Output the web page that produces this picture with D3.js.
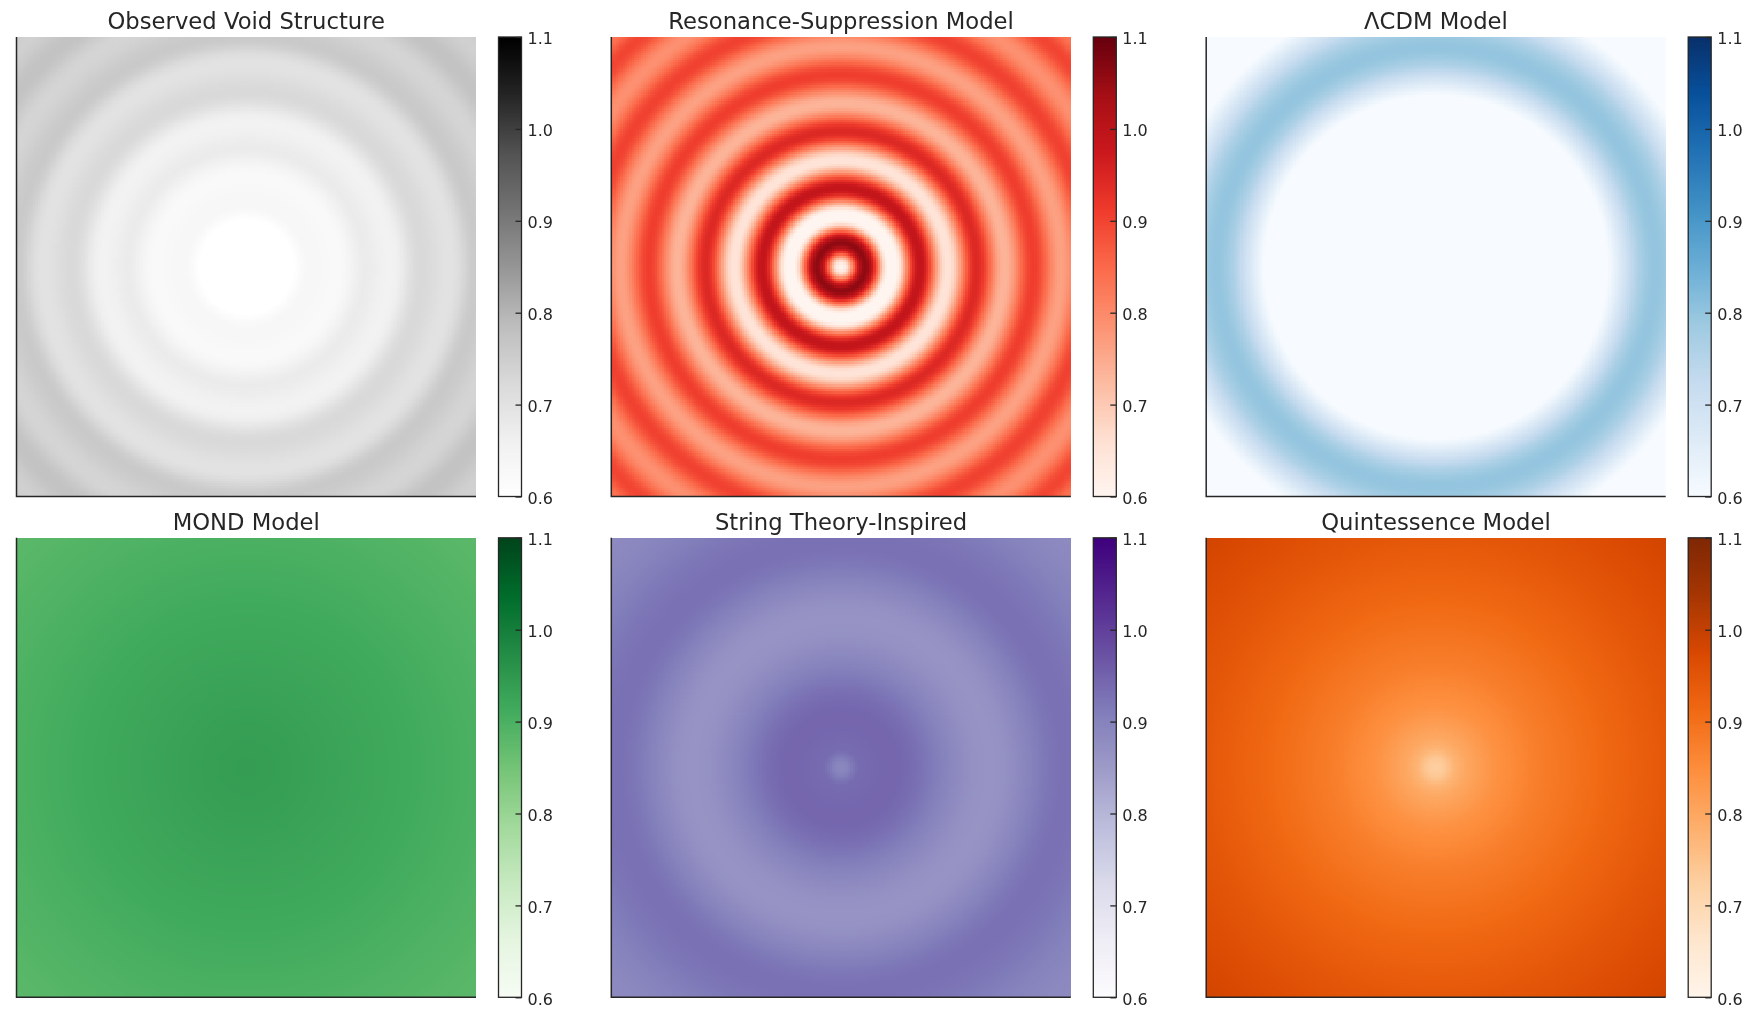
<!DOCTYPE html>
<html>
<head>
<meta charset="utf-8">
<script src="https://cdnjs.cloudflare.com/ajax/libs/d3/7.8.5/d3.min.js"></script>
<style>
  html, body { margin: 0; padding: 0; background: #fff; }
  #chart { position: relative; width: 1755px; height: 1017px; overflow: hidden; }
  #chart canvas { position: absolute; image-rendering: pixelated; }
  #chart svg { position: absolute; left: 0; top: 0; }
  text { font-family: "DejaVu Sans", sans-serif; fill: #262626; }
</style>
</head>
<body>
<div id="chart"></div>
<script>
// panel titles, left to right then top to bottom
const titles = ["Observed Void Structure", "Resonance-Suppression Model", "ΛCDM Model",
                "MOND Model", "String Theory-Inspired", "Quintessence Model"];

// colormap stops, low to high
const greys   = ["#ffffff", "#f0f0f0", "#d9d9d9", "#bdbdbd", "#969696", "#737373", "#525252", "#252525", "#000000"];
const reds    = ["#fff5f0", "#fee0d2", "#fcbba1", "#fc9272", "#fb6a4a", "#ef3b2c", "#cb181d", "#a50f15", "#67000d"];
const blues   = ["#f7fbff", "#deebf7", "#c6dbef", "#9ecae1", "#6baed6", "#4292c6", "#2171b5", "#08519c", "#08306b"];
const greens  = ["#f7fcf5", "#e5f5e0", "#c7e9c0", "#a1d99b", "#74c476", "#41ab5d", "#238b45", "#006d2c", "#00441b"];
const purples = ["#fcfbfd", "#efedf5", "#dadaeb", "#bcbddc", "#9e9ac8", "#807dba", "#6a51a3", "#54278f", "#3f007d"];
const oranges = ["#fff5eb", "#fee6ce", "#fdd0a2", "#fdae6b", "#fd8d3c", "#f16913", "#d94801", "#a63603", "#7f2704"];

// radial profiles: radius in % of the panel half width, value at that radius
const observedR = [0, 17, 28, 40, 52, 63, 76.6, 89, 101, 114, 126, 138, 142];
const observedV = [0.58, 0.59, 0.635, 0.625, 0.675, 0.655, 0.725, 0.70, 0.76, 0.735, 0.775, 0.745, 0.75];

const resonanceR = [0, 10.5, 22.2, 34.4, 46.6, 59.2, 71.4, 84, 96.2, 108.8, 121, 133.2, 142];
const resonanceV = [0.60, 1.06, 0.57, 0.99, 0.65, 0.945, 0.735, 0.91, 0.765, 0.905, 0.79, 0.90, 0.83];

const lcdmR = [0, 66, 96, 131, 142];
const lcdmV = [0.55, 0.55, 0.80, 0.55, 0.55];

const mondR = [0, 20, 60, 100, 142];
const mondV = [0.94, 0.935, 0.92, 0.90, 0.88];

const stringR = [0, 9, 22, 65, 98, 142];
const stringV = [0.89, 0.94, 0.945, 0.865, 0.93, 0.885];

const quintR = [0, 4, 8, 13, 26, 44, 74, 100, 142];
const quintV = [0.725, 0.74, 0.775, 0.80, 0.84, 0.875, 0.915, 0.945, 0.985];

const ramps = [greys, reds, blues, greens, purples, oranges];
const radii = [observedR, resonanceR, lcdmR, mondR, stringR, quintR];
const profiles = [observedV, resonanceV, lcdmV, mondV, stringV, quintV];
const ringed = [true, true, true, false, true, false];

const tickValues = [0.6, 0.7, 0.8, 0.9, 1.0, 1.1];
const valueDomain = [0.6, 1.1];

const gridSize = 200;
const panelSize = 459.5;
const panelLeft = [16.5, 611.3, 1206.2];
const panelTop = [37, 537.8];
const barGap = 22.5;
const barWidth = 23;
const barSteps = 256;

const chart = d3.select("#chart");
const svg = chart.append("svg").attr("width", 1755).attr("height", 1017);

// position across the grid, in % of half width from the panel centre
const gridPos = d3.scaleLinear().domain([0, gridSize - 1]).range([-100, 100]);

titles.forEach((title, i) => {
    const x0 = panelLeft[i % 3];
    const y0 = panelTop[Math.floor(i / 3)];

    const ramp = ramps[i];
    const color = d3.scaleLinear()
        .domain(ramp.map((_, k) => valueDomain[0] + (valueDomain[1] - valueDomain[0]) * k / (ramp.length - 1)))
        .range(ramp)
        .clamp(true);

    // eased between the readings so rings do not come out as a triangle wave
    const profile = d3.scaleLinear()
        .domain(radii[i])
        .range(profiles[i])
        .clamp(true);
    if (ringed[i]) {
        profile.interpolate((a, b) => t => a + (b - a) * d3.easeSinInOut(t));
    }

    const canvas = chart.insert("canvas", "svg")
        .attr("width", gridSize)
        .attr("height", gridSize)
        .style("left", x0 + "px")
        .style("top", y0 + "px")
        .style("width", panelSize + "px")
        .style("height", panelSize + "px");
    const ctx = canvas.node().getContext("2d");
    d3.range(gridSize).forEach(row => {
        d3.range(gridSize).forEach(col => {
            ctx.fillStyle = color(profile(Math.hypot(gridPos(col), gridPos(row))));
            ctx.fillRect(col, row, 1, 1);
        });
    });

    const g = svg.append("g");

    // left and bottom spines only
    g.append("path")
        .attr("d", d3.line()([[x0, y0], [x0, y0 + panelSize], [x0 + panelSize, y0 + panelSize]]))
        .attr("fill", "none")
        .attr("stroke", "#262626")
        .attr("stroke-width", 1.5);

    g.append("text")
        .attr("x", x0 + panelSize / 2)
        .attr("y", y0 - 7.6)
        .attr("text-anchor", "middle")
        .attr("font-size", 22.7)
        .text(title);

    // colorbar
    const barX = x0 + panelSize + barGap;
    const barScale = d3.scaleLinear().domain(valueDomain).range([y0 + panelSize, y0]);
    const levels = d3.range(barSteps).map(k => valueDomain[0] + (valueDomain[1] - valueDomain[0]) * k / barSteps);
    const stepH = panelSize / barSteps;

    g.append("g").attr("shape-rendering", "crispEdges").selectAll("rect")
        .data(levels)
        .join("rect")
        .attr("x", barX)
        .attr("y", d => barScale(d) - stepH)
        .attr("width", barWidth)
        .attr("height", stepH + 1)
        .attr("fill", d => color(d + (valueDomain[1] - valueDomain[0]) / barSteps / 2));

    g.append("rect")
        .attr("x", barX)
        .attr("y", y0)
        .attr("width", barWidth)
        .attr("height", panelSize)
        .attr("fill", "none")
        .attr("stroke", "#262626")
        .attr("stroke-width", 1.3);

    const axis = d3.axisRight(barScale)
        .tickValues(tickValues)
        .tickFormat(d3.format(".1f"))
        .tickSizeInner(-6)
        .tickSizeOuter(0)
        .tickPadding(6);

    const axisG = g.append("g")
        .attr("transform", `translate(${barX + barWidth},0)`)
        .call(axis);
    axisG.select(".domain").remove();
    axisG.selectAll("line").attr("stroke", "#262626").attr("stroke-width", 1.3);
    axisG.selectAll("text").attr("font-size", 16).attr("dy", "0.42em");
    axisG.attr("font-family", null).attr("font-size", null);
});
</script>
</body>
</html>
